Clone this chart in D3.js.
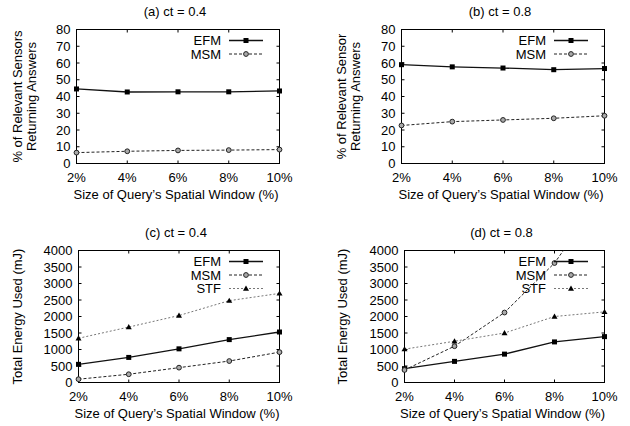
<!DOCTYPE html>
<html>
<head>
<meta charset="utf-8">
<script src="https://cdn.jsdelivr.net/npm/d3@7"></script>
<style>
  body { margin: 0; background: #fff; }
  svg { display: block; font-family: "Liberation Sans", Arial, sans-serif; }
</style>
</head>
<body>
<svg id="chart" width="630" height="426"></svg>
<script>
// window sizes (%) on the x axis
var windowSizes = [2, 4, 6, 8, 10];
var xTickLabels = ['2%', '4%', '6%', '8%', '10%'];

// (a) ct = 0.4, % of relevant sensors returning answers
var pctEFM_04 = [44.5, 42.7, 42.8, 42.8, 43.3];
var pctMSM_04 = [6.5, 7.3, 7.8, 8.0, 8.3];

// (b) ct = 0.8
var pctEFM_08 = [59.0, 57.7, 57.0, 56.0, 56.7];
var pctMSM_08 = [22.7, 25.0, 26.0, 27.0, 28.5];

// (c) ct = 0.4, total energy used (mJ)
var energyEFM_04 = [550, 760, 1020, 1300, 1530];
var energyMSM_04 = [100, 250, 450, 650, 920];
var energySTF_04 = [1340, 1680, 2030, 2480, 2700];

// (d) ct = 0.8
var energyEFM_08 = [420, 640, 860, 1230, 1390];
var energyMSM_08 = [380, 1100, 2120, 3620, 5750];
var energySTF_08 = [1010, 1250, 1500, 2000, 2140];

var pctTicks = [0, 10, 20, 30, 40, 50, 60, 70, 80];
var energyTicks = [0, 500, 1000, 1500, 2000, 2500, 3000, 3500, 4000];

var styles = {
	EFM: { stroke: '#111', dash: null, width: 1.3, marker: 'square' },
	MSM: { stroke: '#222', dash: '3,2', width: 1, marker: 'circle' },
	STF: { stroke: '#777', dash: '2,2', width: 1, marker: 'triangle' }
};

var svg = d3.select('#chart');

function drawPanel(p)
{
	var g = svg.append('g');
	var x = d3.scaleLinear().domain([2, 10]).range([p.left, p.right]);
	var y = d3.scaleLinear().domain([0, p.yMax]).range([p.bottom, p.top]);

	var clipId = 'clip-' + p.id;
	g.append('clipPath').attr('id', clipId)
		.append('rect')
		.attr('x', p.left - 4).attr('y', p.top)
		.attr('width', p.right - p.left + 8).attr('height', p.bottom - p.top + 4);

	// title
	g.append('text')
		.attr('x', (p.left + p.right) / 2 - 3)
		.attr('y', p.top - 14)
		.attr('text-anchor', 'middle')
		.attr('font-size', 13)
		.text(p.title);

	// y ticks (mirrored inward on the right)
	p.yTicks.forEach(function(t) {
		g.append('line').attr('x1', p.left).attr('x2', p.left + 3)
			.attr('y1', y(t)).attr('y2', y(t)).attr('stroke', '#000');
		g.append('line').attr('x1', p.right).attr('x2', p.right - 3)
			.attr('y1', y(t)).attr('y2', y(t)).attr('stroke', '#000');
		g.append('text')
			.attr('x', p.left - 6).attr('y', y(t) + 4.5)
			.attr('text-anchor', 'end').attr('font-size', 13)
			.text(t);
	});

	// x ticks
	windowSizes.forEach(function(v, i) {
		g.append('line').attr('x1', x(v)).attr('x2', x(v))
			.attr('y1', p.bottom).attr('y2', p.bottom - 3).attr('stroke', '#000');
		g.append('line').attr('x1', x(v)).attr('x2', x(v))
			.attr('y1', p.top).attr('y2', p.top + 3).attr('stroke', '#000');
		g.append('text')
			.attr('x', x(v)).attr('y', p.bottom + 18)
			.attr('text-anchor', 'middle').attr('font-size', 13)
			.text(xTickLabels[i]);
	});

	// frame
	g.append('rect')
		.attr('x', p.left).attr('y', p.top)
		.attr('width', p.right - p.left).attr('height', p.bottom - p.top)
		.attr('fill', 'none').attr('stroke', '#000').attr('stroke-width', 1);

	// x label
	g.append('text')
		.attr('x', (p.left + p.right) / 2 - 2).attr('y', p.bottom + 35)
		.attr('text-anchor', 'middle').attr('font-size', 13)
		.text('Size of Query\u2019s Spatial Window (%)');

	// y label (one or two lines)
	var cy = (p.top + p.bottom) / 2;
	p.yLabel.forEach(function(line, i) {
		var lx = p.yLabelX + i * 14;
		g.append('text')
			.attr('transform', 'translate(' + lx + ',' + cy + ') rotate(-90)')
			.attr('text-anchor', 'middle').attr('font-size', 13)
			.text(line);
	});

	// series
	var plot = g.append('g').attr('clip-path', 'url(#' + clipId + ')');
	var lineGen = d3.line().x(function(d) { return x(d[0]); }).y(function(d) { return y(d[1]); });

	p.series.forEach(function(s) {
		var st = styles[s.name];
		var pts = windowSizes.map(function(v, i) { return [v, s.values[i]]; });
		plot.append('path')
			.attr('d', lineGen(pts))
			.attr('fill', 'none')
			.attr('stroke', st.stroke)
			.attr('stroke-width', st.width)
			.attr('stroke-dasharray', st.dash);
		pts.forEach(function(d) { drawMarker(plot, st.marker, x(d[0]), y(d[1])); });
	});

	// legend
	p.series.forEach(function(s, i) {
		var st = styles[s.name];
		var ly = p.top + 11 + i * 13.5;
		g.append('text')
			.attr('x', p.legendX).attr('y', ly + 4.5)
			.attr('text-anchor', 'end').attr('font-size', 13)
			.text(s.name);
		g.append('line')
			.attr('x1', p.legendX + 8).attr('x2', p.legendX + 42)
			.attr('y1', ly).attr('y2', ly)
			.attr('stroke', st.stroke).attr('stroke-width', st.width)
			.attr('stroke-dasharray', st.dash);
		drawMarker(g, st.marker, p.legendX + 25, ly);
	});
}

function drawMarker(g, type, cx, cy)
{
	if (type === 'square') {
		g.append('rect').attr('x', cx - 2.5).attr('y', cy - 2.5)
			.attr('width', 5).attr('height', 5).attr('fill', '#000');
	} else if (type === 'circle') {
		g.append('circle').attr('cx', cx).attr('cy', cy).attr('r', 2.4)
			.attr('fill', '#aaa').attr('stroke', '#222').attr('stroke-width', 1);
	} else {
		g.append('path')
			.attr('d', 'M' + cx + ',' + (cy - 3) + 'L' + (cx + 3) + ',' + (cy + 2.2) + 'L' + (cx - 3) + ',' + (cy + 2.2) + 'Z')
			.attr('fill', '#000');
	}
}

drawPanel({ id: 'a', title: '(a) ct = 0.4', left: 76.5, right: 279.5, top: 29.5, bottom: 163.5,
	yMax: 80, yTicks: pctTicks, yLabelX: 22, yLabel: ['% of Relevant Sensors', 'Returning Answers'], legendX: 221,
	series: [{ name: 'EFM', values: pctEFM_04 }, { name: 'MSM', values: pctMSM_04 }] });

drawPanel({ id: 'b', title: '(b) ct = 0.8', left: 401.5, right: 604.5, top: 29.5, bottom: 163.5,
	yMax: 80, yTicks: pctTicks, yLabelX: 346, yLabel: ['% of Relevant Sensor', 'Returning Answers'], legendX: 546,
	series: [{ name: 'EFM', values: pctEFM_08 }, { name: 'MSM', values: pctMSM_08 }] });

drawPanel({ id: 'c', title: '(c) ct = 0.4', left: 78.5, right: 279.5, top: 250.5, bottom: 382.5,
	yMax: 4000, yTicks: energyTicks, yLabelX: 22, yLabel: ['Total Energy Used (mJ)'], legendX: 221,
	series: [{ name: 'EFM', values: energyEFM_04 }, { name: 'MSM', values: energyMSM_04 }, { name: 'STF', values: energySTF_04 }] });

drawPanel({ id: 'd', title: '(d) ct = 0.8', left: 404.5, right: 604.5, top: 250.5, bottom: 382.5,
	yMax: 4000, yTicks: energyTicks, yLabelX: 347, yLabel: ['Total Energy Used (mJ)'], legendX: 546,
	series: [{ name: 'EFM', values: energyEFM_08 }, { name: 'MSM', values: energyMSM_08 }, { name: 'STF', values: energySTF_08 }] });
</script>
</body>
</html>
